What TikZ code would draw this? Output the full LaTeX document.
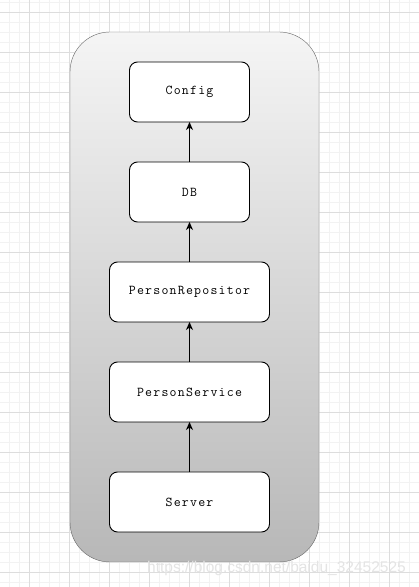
\documentclass[tikz,border=0pt]{standalone}
\usepackage{fontspec}
\newfontfamily\boxfont[LetterSpace=9]{Latin Modern Mono}
\newfontfamily\markfont{Liberation Sans}
\usepackage{tikz}
\usetikzlibrary{arrows.meta,positioning}
\definecolor{gridminor}{HTML}{F2F2F2}
\definecolor{gridmajor}{HTML}{DDDDDD}
\definecolor{frame}{HTML}{666666}
\definecolor{marktext}{HTML}{E4E4E4}
\tikzset{
  layer_box/.style={draw=frame,rounded corners=40pt,top color=gray!8,bottom color=gray!56},
  mod_box/.style={draw=black,fill=white,rounded corners=8pt,line width=0.9pt,
    minimum width=120pt,minimum height=60pt,outer sep=0pt,
    font=\boxfont\fontsize{13.5}{15}\selectfont,align=center},
  mod_wide/.style={mod_box,minimum width=160pt},
  dep/.style={-{Stealth[length=8pt,width=7pt,inset=2.5pt]},draw=black,line width=0.9pt},
}

\begin{document}
\begin{tikzpicture}[x=1pt,y=1pt,node distance=40pt]
    \useasboundingbox (0,0) rectangle (419,587);
    \fill[white] (0,0) rectangle (419,587);
    % background grid
    \foreach \gx in {9,19,...,419} \draw[gridminor,line width=0.6pt] (\gx,0) -- (\gx,587);
    \foreach \gy in {5,15,...,587} \draw[gridminor,line width=0.6pt] (0,\gy) -- (419,\gy);
    \foreach \gx in {29,69,...,419} \draw[gridmajor,line width=0.6pt] (\gx,0) -- (\gx,587);
    \foreach \gy in {15,55,...,587} \draw[gridmajor,line width=0.6pt] (0,\gy) -- (419,\gy);
    % container
    \draw[layer_box] (70,25) rectangle (319,555);
    % modules
    \node[mod_wide] (server) at (189.5,85) {Server};
    \node[mod_wide,above=50pt of server] (service) {PersonService};
    \node[mod_wide,above=of service] (repo) {PersonRepositor};
    \node[mod_box,above=of repo] (db) {DB};
    \node[mod_box,above=of db] (config) {Config};
    \draw[dep](server)--(service);\draw[dep](service)--(repo);\draw[dep](repo)--(db);\draw[dep](db)--(config);
    % watermark
    \node[font=\markfont\fontsize{15.5}{17}\selectfont,text=marktext] (mark) at (276.5,19) {https://blog.csdn.net/baidu\_32452525};
  \end{tikzpicture}
\end{document}
